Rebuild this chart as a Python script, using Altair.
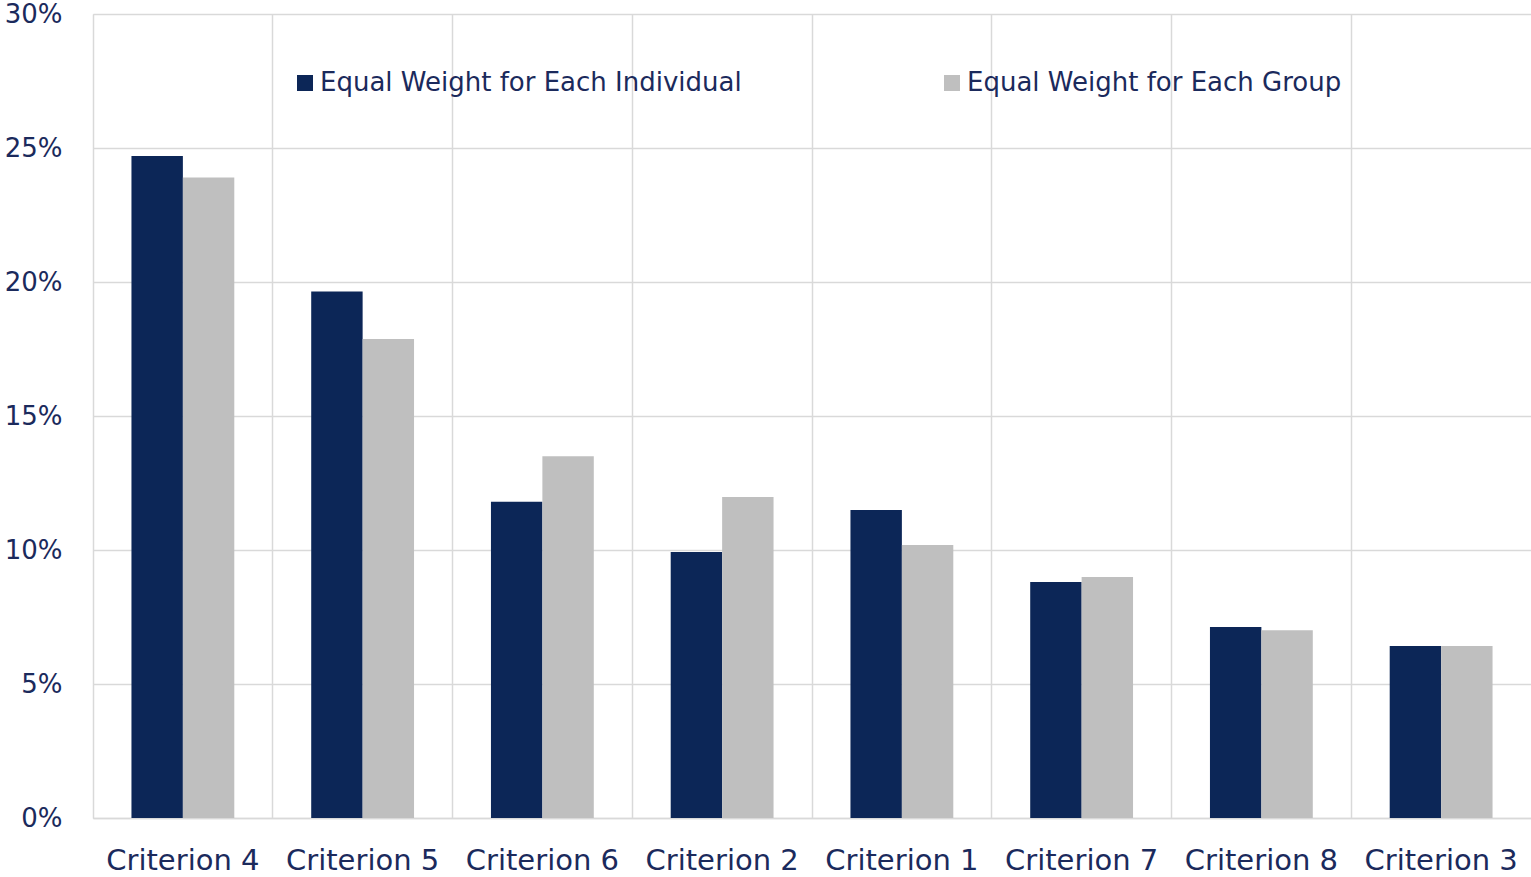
import altair as alt
import pandas as pd

categories = ["Criterion 4", "Criterion 5", "Criterion 6", "Criterion 2",
              "Criterion 1", "Criterion 7", "Criterion 8", "Criterion 3"]
series = ["Equal Weight for Each Individual", "Equal Weight for Each Group"]
individual = [0.247, 0.1965, 0.118, 0.0993, 0.1149, 0.0881, 0.0713, 0.0642]
group = [0.239, 0.1787, 0.135, 0.1198, 0.1019, 0.0899, 0.0701, 0.0642]

rows = []
for c, a, b in zip(categories, individual, group):
    rows.append({"category": c, "series": series[0], "value": a})
    rows.append({"category": c, "series": series[1], "value": b})
df = pd.DataFrame(rows)

NAVY = "#0C2657"
GRAY = "#BFBFBF"
TEXT = "#1B2A5C"
FONT = "DejaVu Sans"

chart = alt.Chart(df).mark_bar().encode(
    x=alt.X("category:N", sort=categories, title=None,
            scale=alt.Scale(paddingInner=0, paddingOuter=0),
            axis=alt.Axis(labelAngle=0, labelFontSize=29, labelColor=TEXT,
                          labelFont=FONT, labelPadding=28, ticks=False,
                          domain=True, domainColor="#D9D9D9", domainWidth=1.5,
                          grid=True, gridColor="#D9D9D9", gridWidth=1.5,
                          bandPosition=0)),
    xOffset=alt.XOffset("series:N", sort=series,
                        scale=alt.Scale(paddingInner=0, paddingOuter=0.748)),
    y=alt.Y("value:Q", title=None,
            scale=alt.Scale(domain=[0, 0.30], nice=False),
            axis=alt.Axis(format=".0%", values=[0, 0.05, 0.10, 0.15, 0.20, 0.25, 0.30],
                          labelFontSize=26, labelColor=TEXT, labelFont=FONT,
                          labelPadding=31, ticks=False, domain=False,
                          grid=True, gridColor="#D9D9D9", gridWidth=1.5)),
    color=alt.Color("series:N", sort=series,
                    scale=alt.Scale(domain=series, range=[NAVY, GRAY]),
                    legend=alt.Legend(title=None, orient="none", legendX=199, legendY=56,
                                      direction="horizontal", symbolType="square",
                                      symbolSize=256, symbolStrokeWidth=0,
                                      labelFontSize=26, labelFont=FONT, labelColor=TEXT,
                                      labelFontWeight="normal", labelOffset=2,
                                      columnPadding=197, labelLimit=600)),
).properties(
    width=1438, height=804,
    autosize=alt.AutoSizeParams(type="none"),
    padding={"left": 93, "top": 14, "right": 0, "bottom": 59},
).configure_view(stroke=None).configure(background="white")

chart.save("out.html", embed_options={"renderer": "svg", "actions": False})
